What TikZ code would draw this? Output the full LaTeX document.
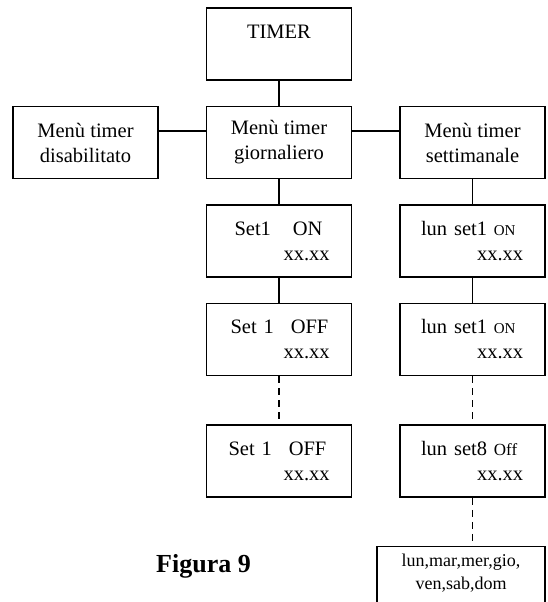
\documentclass[tikz,border=0pt]{standalone}
\usepackage{fontspec}
\setmainfont{Liberation Serif}
\usetikzlibrary{positioning}

\newcommand{\smalltxt}[2]{{\fontsize{#1}{#1}\selectfont #2}}

\begin{document}
\begin{tikzpicture}[
	  x=1pt, y=-1pt,
	  font=\fontsize{20.5}{25}\selectfont,
	  node distance=25pt,
	  box/.style={
	    draw,
	    line width=1.5pt,
	    align=center,
	    inner sep=0pt,
	    minimum width=145pt,
	    minimum height=72pt
	  },
	  setbox/.style={
	    box,
	    align=left,
	    text width=145pt
	  },
	  link/.style={line width=1.5pt},
	  dots/.style={link, dash pattern=on 7pt off 5pt}
	]
	
	\clip (0,0) rectangle (547,602);
	\fill[white] (0,0) rectangle (547,602);
	
	\node[box, text depth=25pt] (timer) at (279,44) {TIMER};
	\node[box, below=of timer] (giorn) {Menù timer\\giornaliero};
	\node[box, left=47pt of giorn] (disab) {Menù timer\\disabilitato};
	\node[box, right=47pt of giorn] (sett) {Menù timer\\settimanale};
	
	\node[setbox, below=of giorn] (gon) {\hspace*{28pt}Set1\hspace{22pt}ON\\\hspace*{77pt}xx.xx};
	\node[setbox, below=of gon] (goff) {\hspace*{24pt}Set 1\hspace{17pt}OFF\\\hspace*{77pt}xx.xx};
	\node[setbox, below=48pt of goff] (goffn) {\hspace*{22pt}Set 1\hspace{17pt}OFF\\\hspace*{77pt}xx.xx};
	
	\node[setbox, below=of sett] (son) {\hspace*{21pt}lun set1 \smalltxt{15}{ON}\\\hspace*{77pt}xx.xx};
	\node[setbox, below=of son] (son2) {\hspace*{21pt}lun set1 \smalltxt{15}{ON}\\\hspace*{77pt}xx.xx};
	\node[setbox, below=48pt of son2] (soff) {\hspace*{21pt}lun set8 \smalltxt{17}{Off}\\\hspace*{77pt}xx.xx};
	\node[box, minimum width=168pt, font=\fontsize{18}{23}\selectfont, inner ysep=8pt, text depth=45pt,
	  below=48pt of soff.south east, anchor=north east] (days) {lun,mar,mer,gio,\\ven,sab,dom};
	
	\node[font=\fontsize{26}{30}\selectfont\bfseries, anchor=base] (fig) at (203.5,572) {Figura 9};
	
	\draw[link] (timer) -- (giorn);
	\draw[link] ([yshift=11.5pt]disab.east) -- ([yshift=11.5pt]giorn.west);
	\draw[link] ([yshift=11.5pt]giorn.east) -- ([yshift=11.5pt]sett.west);
	\draw[link] (giorn) -- (gon);
	\draw[link] (gon) -- (goff);
	\draw[dots] (goff) -- (goffn);
	\draw[link] (sett) -- (son);
	\draw[link] (son) -- (son2);
	\draw[dots] (son2) -- (soff);
	\draw[dots] (soff) -- (soff |- days.north);
	
	\end{tikzpicture}
\end{document}
